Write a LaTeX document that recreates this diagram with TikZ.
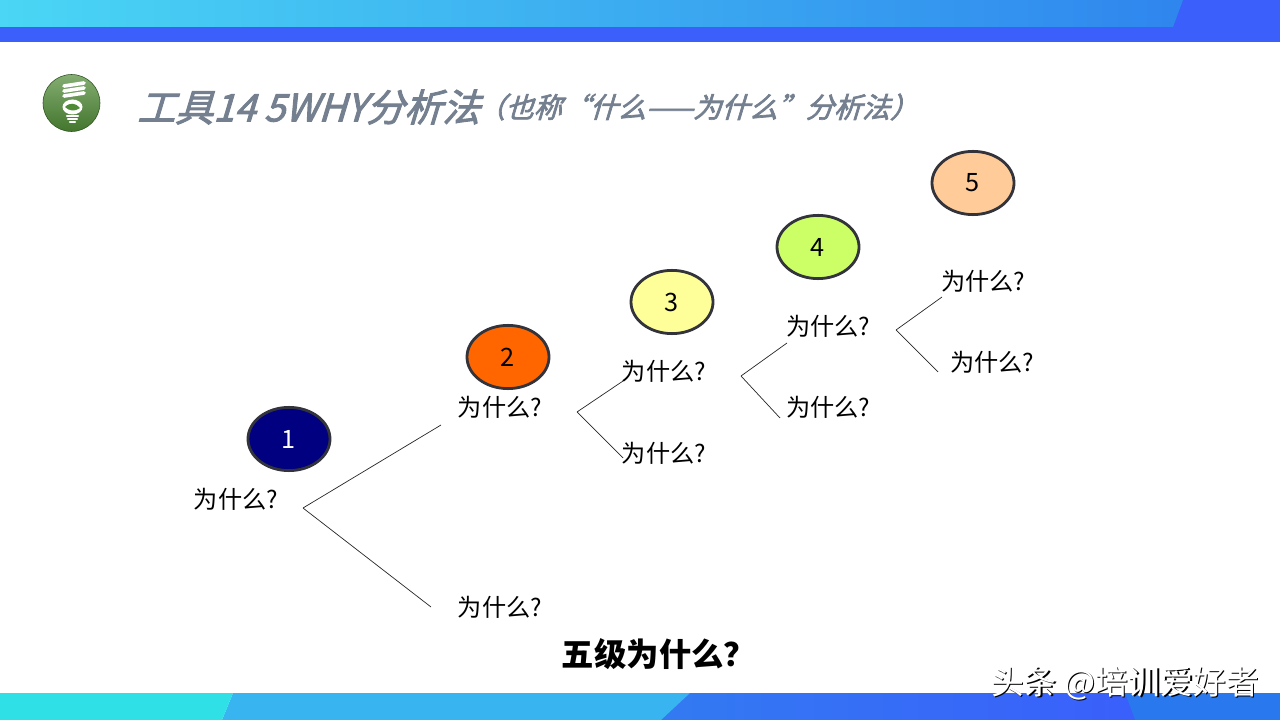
\documentclass[tikz,border=0pt]{standalone}
\usepackage{fontspec}
\setmainfont{Noto Sans CJK SC}
\newfontfamily\titlefont[FakeSlant=0.3,FakeBold=2.5]{Noto Sans CJK SC}
\usetikzlibrary{positioning,shapes.geometric}
\definecolor{barblue}{HTML}{3A5FFB}
\definecolor{barsky}{HTML}{4AD6F4}
\definecolor{barmid}{HTML}{2F86EE}
\definecolor{barcyan}{HTML}{2FE0E6}
\definecolor{barlight}{HTML}{38B4F0}
\definecolor{barright}{HTML}{2A78EE}
\definecolor{titlegray}{HTML}{74808F}
\definecolor{rimgray}{HTML}{33333B}
\definecolor{leafgreen}{HTML}{4F8A35}
\definecolor{numnavy}{HTML}{000080}
\definecolor{numorange}{HTML}{FF6600}
\definecolor{numyellow}{HTML}{FFFF99}
\definecolor{numgreen}{HTML}{CCFF66}
\definecolor{numpeach}{HTML}{FFCC99}
\tikzset{
	whynode/.style={font=\fontsize{17.2}{20}\selectfont, inner sep=0pt},
	numnode/.style={ellipse, draw=rimgray, line width=2pt, minimum width=2.05cm, minimum height=1.58cm, font=\fontsize{18}{20}\selectfont, inner sep=0pt},
	forkline/.style={line width=0.5pt, black!85},
	markfont/.style={font=\fontsize{23.3}{26}\selectfont, inner sep=0pt},
	bulbline/.style={white, line width=2.6pt, line cap=round},
}
\begin{document}
\begin{tikzpicture}[x=0.025cm, y=-0.025cm]
			\useasboundingbox (0, 0) rectangle (1280, 720);
			% top band
			\fill [barblue] (0, 27) rectangle (1280, 42);
			\fill [barblue] (1160, 0) rectangle (1280, 27);
			\shade [left color=barsky, right color=barmid] (0, 0) -- (1183, 0) -- (1173, 27) -- (0, 27) -- cycle;
			% bottom band
			\fill [barright] (1100, 693) rectangle (1280, 720);
			\shade [left color=barmid!70!barblue, right color=barblue] (660, 693) -- (1125, 693) -- (1135, 720) -- (660, 720) -- cycle;
			\fill [barlight] (222, 720) -- (233, 693) -- (690, 693) -- (661, 720) -- cycle;
			\fill [barcyan] (0, 693) -- (233, 693) -- (222, 720) -- (0, 720) -- cycle;
			% icon
			\shade [top color=leafgreen!70!white, bottom color=leafgreen!85!black, draw=leafgreen!60!black] (71.5, 103) ellipse (28.5 and 28.5);
			\draw [bulbline] (64, 86) -- (84, 83);
			\draw [bulbline] (64, 91) -- (84, 88);
			\draw [bulbline] (64, 96) -- (84, 93);
			\fill [white] (72.5, 107) ellipse (10 and 7.5);
			\fill [leafgreen] (65, 107) .. controls (70, 102) and (76, 103) .. (80, 108) .. controls (75, 112) and (69, 111) .. (65, 107) -- cycle;
			\draw [bulbline, line width=1.5pt] (67, 116) -- (78, 116);
			\draw [bulbline, line width=1.5pt] (68, 119) -- (77, 119);
			\draw [bulbline, line width=1.5pt] (70, 122) -- (75, 122);
			% numbers
			\node [numnode, fill=numnavy, text=white] (num1) at (289, 439) {1};
			\node [numnode, fill=numorange] (num2) at (508, 357) {2};
			\node [numnode, fill=numyellow] (num3) at (672, 302) {3};
			\node [numnode, fill=numgreen] (num4) at (818, 247) {4};
			\node [numnode, fill=numpeach] (num5) at (973, 183) {5};
			% why
			\node [whynode] (why1) at (236, 499) {为什么?};
			\node [whynode] (why2a) at (500, 407) {为什么?};
			\node [whynode] (why2b) at (500, 607) {为什么?};
			\node [whynode] (why3a) at (664, 371) {为什么?};
			\node [whynode] (why3b) at (664, 453) {为什么?};
			\node [whynode] (why4a) at (828, 326) {为什么?};
			\node [whynode] (why4b) at (828, 407) {为什么?};
			\node [whynode] (why5a) at (983, 281) {为什么?};
			\node [whynode] (why5b) at (992, 362) {为什么?};
			% forks
			\coordinate (fork1) at (303, 508);
			\coordinate (end1a) at (441, 425);
			\coordinate (end1b) at (431, 607);
			\coordinate (fork2) at (577, 412);
			\coordinate (end2a) at (623, 381);
			\coordinate (end2b) at (623, 458);
			\coordinate (fork3) at (741, 376);
			\coordinate (end3a) at (787, 343);
			\coordinate (end3b) at (780, 418);
			\coordinate (fork4) at (896, 330);
			\coordinate (end4a) at (942, 297);
			\coordinate (end4b) at (938, 372);
			\draw [forkline] (fork1) to (end1a);
			\draw [forkline] (fork1) to (end1b);
			\draw [forkline] (fork2) to (end2a);
			\draw [forkline] (fork2) to (end2b);
			\draw [forkline] (fork3) to (end3a);
			\draw [forkline] (fork3) to (end3b);
			\draw [forkline] (fork4) to (end4a);
			\draw [forkline] (fork4) to (end4b);
			% title
			\node [anchor=west, inner sep=0pt, text=titlegray, font=\titlefont\fontsize{27}{30}\selectfont] (title) at (137, 107) {工具14 5WHY分析法};
			\node [anchor=west, inner sep=0pt, text=titlegray, font=\titlefont\fontsize{20}{22}\selectfont] (subtitle) at (477, 107) {（也称“什么——为什么”分析法）};
			\node [font=\bfseries\fontsize{23}{26}\selectfont, inner sep=0pt] (caption) at (659, 654) {五级为什么？};
			\node [markfont, text=black] (markshadow) at (1126.5, 684.5) {头条 @培训爱好者};
			\node [markfont, text=white] (mark) at (1125, 683) {头条 @培训爱好者};
		\end{tikzpicture}
\end{document}
